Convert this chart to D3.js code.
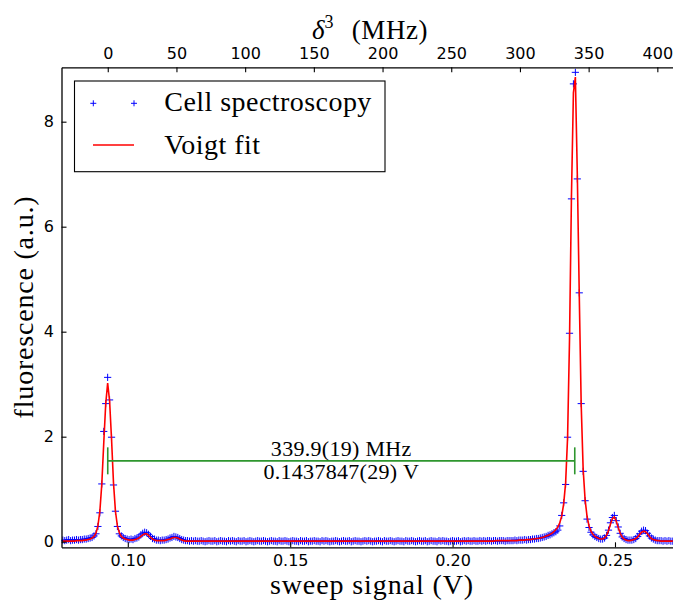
<!DOCTYPE html>
<html lang="en">
<head>
<meta charset="UTF-8">
<title>Cell spectroscopy</title>
<style>
    html,
    body {
        margin: 0;
        padding: 0;
        background: #fff;
    }
    svg { display: block; }
</style>
</head>
<body>
<script src="https://cdn.jsdelivr.net/npm/d3@7"></script>
<script>
    // sweep grid (V): first sample and step
    var sweepStart = 0.0800;
    var sweepStep = 0.0006;

    // measured fluorescence (a.u.), one value per sweep step
    var signal = [
        0.03, 0.02, 0.03, 0.04, 0.02, 0.03, 0.03, 0.04, 0.03, 0.04,
        0.04, 0.05, 0.05, 0.06, 0.07, 0.08, 0.11, 0.15, 0.29, 0.55,
        1.10, 2.10, 2.63, 3.13, 2.70, 1.99, 1.08, 0.58, 0.29, 0.15,
        0.11, 0.08, 0.06, 0.05, 0.04, 0.05, 0.04, 0.06, 0.07, 0.09,
        0.13, 0.16, 0.18, 0.17, 0.14, 0.10, 0.06, 0.05, 0.03, 0.03,
        0.02, 0.03, 0.03, 0.04, 0.05, 0.07, 0.08, 0.10, 0.09, 0.08,
        0.06, 0.04, 0.03, 0.02, 0.02, 0.01, 0.02, 0.01, 0.02, 0.01,
        0.01, 0.02, 0.01, 0.00, 0.01, 0.02, 0.01, 0.01, 0.02, 0.00, 0.01, 0.02, 0.01, 0.01, 0.00, 0.02, 0.01, 0.02, 0.01, 0.00,
        0.02, 0.01, 0.01, 0.02, 0.00, 0.01, 0.02, 0.01, 0.00, 0.01, 0.02, 0.01, 0.01, 0.02, 0.01, 0.00, 0.01, 0.02, 0.01, 0.01,
        0.00, 0.02, 0.01, 0.01, 0.02, 0.01, 0.00, 0.01, 0.02, 0.01, 0.01, 0.00, 0.02, 0.01, 0.01, 0.02, 0.00, 0.01, 0.01, 0.02,
        0.01, 0.01, 0.00, 0.02, 0.01, 0.02, 0.01, 0.00, 0.01, 0.01, 0.02, 0.01, 0.00, 0.01, 0.02, 0.01, 0.01, 0.02, 0.00, 0.01,
        0.02, 0.01, 0.01, 0.00, 0.01, 0.02, 0.01, 0.02, 0.01, 0.00, 0.01, 0.01, 0.02, 0.01, 0.00, 0.02, 0.01, 0.01, 0.02, 0.01,
        0.00, 0.01, 0.02, 0.01, 0.01, 0.00, 0.02, 0.01, 0.01, 0.02, 0.01, 0.00, 0.01, 0.02, 0.01, 0.01, 0.02, 0.00, 0.01, 0.02,
        0.01, 0.01, 0.00, 0.02, 0.01, 0.02, 0.01, 0.01, 0.00, 0.01, 0.02, 0.01, 0.01, 0.02, 0.00, 0.01, 0.02, 0.01, 0.02, 0.01,
        0.01, 0.02, 0.01, 0.01, 0.02, 0.01, 0.02, 0.01, 0.02, 0.02, 0.01, 0.02, 0.02, 0.01, 0.02, 0.02, 0.02, 0.01, 0.02, 0.02,
        0.02, 0.02, 0.03, 0.02, 0.03, 0.03, 0.03, 0.04, 0.03, 0.04,
        0.04, 0.05, 0.05, 0.06, 0.06, 0.07, 0.08, 0.09, 0.10, 0.12,
        0.13, 0.15, 0.17, 0.19, 0.22, 0.30, 0.50, 0.74, 1.09, 1.99,
        3.97, 6.53, 8.72, 8.94, 6.91, 4.74, 2.63, 1.34, 0.78, 0.43,
        0.27, 0.18, 0.13, 0.10, 0.08, 0.06, 0.05, 0.05, 0.07, 0.12,
        0.22, 0.36, 0.46, 0.50, 0.40, 0.28, 0.16, 0.09, 0.06, 0.04,
        0.03, 0.03, 0.03, 0.04, 0.06, 0.10, 0.15, 0.20, 0.22, 0.21,
        0.16, 0.11, 0.07, 0.05, 0.03, 0.02, 0.02, 0.02, 0.01, 0.02,
        0.01, 0.02, 0.01, 0.01
    ];

    // Voigt fit evaluated on the same sweep grid
    var voigt = [
        0.01, 0.01, 0.01, 0.01, 0.01, 0.01, 0.01, 0.02, 0.02, 0.02,
        0.02, 0.03, 0.03, 0.04, 0.05, 0.07, 0.10, 0.16, 0.30, 0.58,
        1.10, 1.88, 2.62, 3.02, 2.68, 1.95, 1.12, 0.58, 0.30, 0.17,
        0.10, 0.07, 0.05, 0.04, 0.03, 0.03, 0.03, 0.04, 0.05, 0.07,
        0.10, 0.13, 0.15, 0.15, 0.12, 0.08, 0.05, 0.03, 0.02, 0.02,
        0.02, 0.02, 0.02, 0.03, 0.04, 0.05, 0.07, 0.08, 0.08, 0.07,
        0.05, 0.03, 0.02, 0.01, 0.01, 0.01, 0.01, 0.01, 0.01, 0.01,
        0.01, 0.01, 0.01, 0.01, 0.01, 0.01, 0.01, 0.01, 0.01, 0.01, 0.01, 0.01, 0.01, 0.01, 0.01, 0.01, 0.01, 0.01, 0.01, 0.01,
        0.01, 0.01, 0.01, 0.01, 0.01, 0.01, 0.01, 0.01, 0.01, 0.01, 0.01, 0.01, 0.01, 0.01, 0.01, 0.01, 0.01, 0.01, 0.01, 0.01,
        0.01, 0.01, 0.01, 0.01, 0.01, 0.01, 0.01, 0.01, 0.01, 0.01, 0.01, 0.01, 0.01, 0.01, 0.01, 0.01, 0.01, 0.01, 0.01, 0.01,
        0.01, 0.01, 0.01, 0.01, 0.01, 0.01, 0.01, 0.01, 0.01, 0.01, 0.01, 0.01, 0.01, 0.01, 0.01, 0.01, 0.01, 0.01, 0.01, 0.01,
        0.01, 0.01, 0.01, 0.01, 0.01, 0.01, 0.01, 0.01, 0.01, 0.01, 0.01, 0.01, 0.01, 0.01, 0.01, 0.01, 0.01, 0.01, 0.01, 0.01,
        0.01, 0.01, 0.01, 0.01, 0.01, 0.01, 0.01, 0.01, 0.01, 0.01, 0.01, 0.01, 0.01, 0.01, 0.01, 0.01, 0.01, 0.01, 0.01, 0.01,
        0.01, 0.01, 0.01, 0.01, 0.01, 0.01, 0.01, 0.01, 0.01, 0.01, 0.01, 0.01, 0.01, 0.01, 0.01, 0.01, 0.01, 0.01, 0.01, 0.01,
        0.01, 0.01, 0.01, 0.01, 0.01, 0.01, 0.01, 0.01, 0.01, 0.01, 0.01, 0.01, 0.02, 0.02, 0.02, 0.02, 0.02, 0.02, 0.02, 0.02,
        0.02, 0.02, 0.02, 0.02, 0.03, 0.03, 0.03, 0.03, 0.04, 0.04,
        0.04, 0.05, 0.05, 0.06, 0.06, 0.07, 0.08, 0.09, 0.11, 0.12,
        0.14, 0.16, 0.19, 0.23, 0.28, 0.36, 0.49, 0.72, 1.12, 1.98,
        3.85, 6.60, 8.55, 8.85, 7.00, 4.70, 2.60, 1.38, 0.80, 0.48,
        0.30, 0.20, 0.14, 0.10, 0.08, 0.06, 0.05, 0.05, 0.07, 0.12,
        0.21, 0.33, 0.44, 0.47, 0.39, 0.27, 0.16, 0.09, 0.05, 0.03,
        0.02, 0.02, 0.03, 0.04, 0.06, 0.09, 0.14, 0.18, 0.20, 0.19,
        0.15, 0.10, 0.06, 0.04, 0.03, 0.02, 0.02, 0.01, 0.01, 0.01,
        0.01, 0.01, 0.01, 0.01
    ];

    var xTicks = [0.10, 0.15, 0.20, 0.25];
    var yTicks = [0, 2, 4, 6, 8];
    var mhzTicks = [0, 50, 100, 150, 200, 250, 300, 350, 400];

    // splitting between the two resonances
    var peakStart = 0.09383;      // V, centre of first line (0 MHz)
    var splitV = 0.1437847;
    var splitMHz = 339.9;
    var splitLevel = 1.54;
    var splitText = ['339.9(19) MHz', '0.1437847(29) V'];

    var seriesNames = ['Cell spectroscopy', 'Voigt fit'];

    // layout
    var W = 673, H = 603;
    var plot = { left: 61.5, right: 673, top: 67.3, bottom: 547.3 };
    var serif = '"Liberation Serif", "DejaVu Serif", serif';
    var sans = '"DejaVu Sans", sans-serif';

    var svg = d3.select('body').append('svg').attr('width', W).attr('height', H);

    var x = d3.scaleLinear().domain([0.07959, 0.26786]).range([plot.left, plot.right]);
    var y = d3.scaleLinear().domain([-0.107, 9.036]).range([plot.bottom, plot.top]);
    var mhzPerV = splitMHz / splitV;
    var xTop = d3.scaleLinear()
        .domain(x.domain().map(function (v) { return (v - peakStart) * mhzPerV; }))
        .range(x.range());

    var pts = signal.map(function (v, i) { return { v: sweepStart + i * sweepStep, f: v }; });
    var fit = voigt.map(function (v, i) { return { v: sweepStart + i * sweepStep, f: v }; });

    svg.append('clipPath').attr('id', 'clip').append('rect')
        .attr('x', plot.left).attr('y', plot.top)
        .attr('width', plot.right - plot.left).attr('height', plot.bottom - plot.top);

    var data = svg.append('g').attr('clip-path', 'url(#clip)');

    // data points as "+" markers
    var m = 3.6;
    data.selectAll('path.pt').data(pts).join('path')
        .attr('class', 'pt')
        .attr('d', function (d) {
            var px = x(d.v), py = y(d.f);
            return 'M' + (px - m) + ',' + py + 'H' + (px + m) + 'M' + px + ',' + (py - m) + 'V' + (py + m);
        })
        .attr('fill', 'none').attr('stroke', '#0000ff').attr('stroke-width', 1);

    // fit
    data.append('path').datum(fit)
        .attr('d', d3.line().x(function (d) { return x(d.v); }).y(function (d) { return y(d.f); }))
        .attr('fill', 'none').attr('stroke', '#ff0000').attr('stroke-width', 1.6);

    // splitting bar
    var gx1 = x(peakStart), gx2 = x(peakStart + splitV), gy = y(splitLevel);
    var green = '#2e962e';
    svg.append('line').attr('x1', gx1).attr('x2', gx2).attr('y1', gy).attr('y2', gy)
        .attr('stroke', green).attr('stroke-width', 1.6);
    [gx1, gx2].forEach(function (gx) {
        svg.append('line').attr('x1', gx).attr('x2', gx).attr('y1', gy - 13.5).attr('y2', gy + 13.5)
            .attr('stroke', green).attr('stroke-width', 1.6);
    });
    svg.append('text').attr('x', (gx1 + gx2) / 2).attr('y', gy - 4.7)
        .attr('text-anchor', 'middle').attr('font-family', serif).attr('font-size', 22)
        .attr('letter-spacing', 0.3).text(splitText[0]);
    svg.append('text').attr('x', (gx1 + gx2) / 2).attr('y', gy + 18.6)
        .attr('text-anchor', 'middle').attr('font-family', serif).attr('font-size', 22)
        .attr('letter-spacing', 0.3).text(splitText[1]);

    // axes
    function styleAxis(g) {
        g.select('.domain').attr('stroke', '#000').attr('stroke-width', 1.3);
        g.selectAll('.tick line').attr('stroke', '#000').attr('stroke-width', 1.1);
        g.selectAll('.tick text').attr('fill', '#000').attr('font-family', sans).attr('font-size', 16);
    }
    svg.append('g').attr('transform', 'translate(0,' + plot.bottom + ')')
        .call(d3.axisBottom(x).tickValues(xTicks).tickFormat(d3.format('.2f'))
            .tickSizeInner(-5).tickSizeOuter(0).tickPadding(7.7))
        .call(styleAxis);
    svg.append('g').attr('transform', 'translate(' + plot.left + ',0)')
        .call(d3.axisLeft(y).tickValues(yTicks).tickFormat(d3.format('d'))
            .tickSizeInner(-5).tickSizeOuter(0).tickPadding(7.5))
        .call(styleAxis);
    svg.append('g').attr('transform', 'translate(0,' + plot.top + ')')
        .call(d3.axisTop(xTop).tickValues(mhzTicks).tickFormat(d3.format('d'))
            .tickSizeInner(-5).tickSizeOuter(0).tickPadding(7.9))
        .call(styleAxis);

    // axis titles
    svg.append('text').attr('x', 372).attr('y', 594)
        .attr('text-anchor', 'middle').attr('font-family', serif).attr('font-size', 28)
        .attr('letter-spacing', 0.9).text('sweep signal (V)');
    svg.append('text').attr('transform', 'translate(33,307) rotate(-90)')
        .attr('text-anchor', 'middle').attr('font-family', serif).attr('font-size', 28)
        .attr('letter-spacing', 0.8).text('fluorescence (a.u.)');
    var topTitle = svg.append('text').attr('x', 312).attr('y', 39)
        .attr('font-family', serif).attr('font-size', 27);
    topTitle.append('tspan').attr('font-style', 'italic').text('δ');
    topTitle.append('tspan').attr('font-size', 18).attr('dy', -11).text('3');
    topTitle.append('tspan').attr('x', 351.7).attr('dy', 11).attr('letter-spacing', 0.6).text('(MHz)');

    // legend
    var lg = svg.append('g');
    lg.append('rect').attr('x', 74.5).attr('y', 81).attr('width', 310.5).attr('height', 90.7)
        .attr('fill', '#fff').attr('stroke', '#000').attr('stroke-width', 1.1);
    [93.3, 134].forEach(function (lx) {
        lg.append('path')
            .attr('d', 'M' + (lx - 3) + ',103.3H' + (lx + 3) + 'M' + lx + ',100.3V106.3')
            .attr('stroke', '#0000ff').attr('stroke-width', 1);
    });
    lg.append('line').attr('x1', 93).attr('x2', 134).attr('y1', 145).attr('y2', 145)
        .attr('stroke', '#ff0000').attr('stroke-width', 1.6);
    lg.append('text').attr('x', 164.3).attr('y', 111).attr('font-family', serif).attr('font-size', 28)
        .attr('letter-spacing', 0.45).text(seriesNames[0]);
    lg.append('text').attr('x', 164.3).attr('y', 154).attr('font-family', serif).attr('font-size', 28)
        .attr('letter-spacing', 0.45).text(seriesNames[1]);
</script>
</body>
</html>
